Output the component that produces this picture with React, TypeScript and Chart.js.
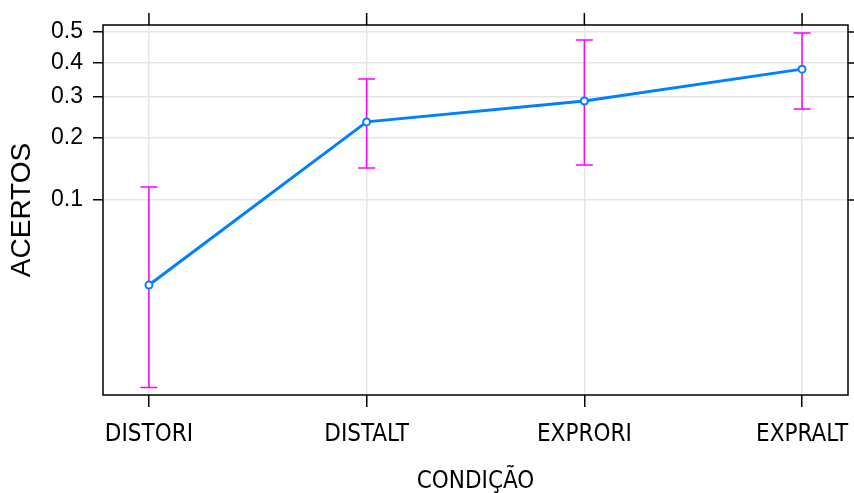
import React, { useEffect, useRef } from 'react';
import { Chart, registerables } from 'chart.js';

Chart.register(...registerables);

// ---- data ----
const categories = ['DISTORI', 'DISTALT', 'EXPRORI', 'EXPRALT'];
const fitValues = [0.0353, 0.236, 0.2886, 0.381];
const lowerValues = [0.0095, 0.1446, 0.1494, 0.2677];
const upperValues = [0.1165, 0.351, 0.474, 0.4967];
const yTickValues = [0.1, 0.2, 0.3, 0.4, 0.5];
const yTickLabels = ['0.1', '0.2', '0.3', '0.4', '0.5'];
const yRange = [0.00862, 0.5229];
const xPad = 0.211;

const logit = (p: number) => Math.log(p / (1 - p));

const narrowFont = "'Liberation Sans Narrow', 'DejaVu Sans Condensed', 'Liberation Sans', sans-serif";
const regularFont = "'Liberation Sans', Arial, sans-serif";

const errorBarPlugin = {
  id: 'errorBars',
  beforeDatasetsDraw(chart: any) {
    const { ctx } = chart;
    const x = chart.scales.x;
    const y = chart.scales.y;
    ctx.save();
    ctx.strokeStyle = '#ff00ff';
    ctx.lineWidth = 1.5;
    categories.forEach((_, i) => {
      const px = x.getPixelForValue(i);
      const yl = y.getPixelForValue(logit(lowerValues[i]));
      const yu = y.getPixelForValue(logit(upperValues[i]));
      ctx.beginPath();
      ctx.moveTo(px, yl);
      ctx.lineTo(px, yu);
      ctx.moveTo(px - 8.5, yl);
      ctx.lineTo(px + 8.5, yl);
      ctx.moveTo(px - 8.5, yu);
      ctx.lineTo(px + 8.5, yu);
      ctx.stroke();
    });
    ctx.restore();
  },
};

const framePlugin = {
  id: 'frame',
  afterDraw(chart: any) {
    const { ctx, chartArea } = chart;
    const x = chart.scales.x;
    const y = chart.scales.y;
    ctx.save();
    ctx.strokeStyle = '#000000';
    ctx.lineWidth = 1.5;
    ctx.strokeRect(chartArea.left, chartArea.top, chartArea.right - chartArea.left, chartArea.bottom - chartArea.top);
    ctx.beginPath();
    categories.forEach((_, i) => {
      const px = x.getPixelForValue(i);
      ctx.moveTo(px, chartArea.top);
      ctx.lineTo(px, chartArea.top - 12);
    });
    yTickValues.forEach((v) => {
      const py = y.getPixelForValue(logit(v));
      ctx.moveTo(chartArea.right, py);
      ctx.lineTo(chartArea.right + 10, py);
    });
    ctx.stroke();
    ctx.restore();
  },
};

export default function App() {
  const canvasRef = useRef<HTMLCanvasElement | null>(null);

  useEffect(() => {
    if (!canvasRef.current) return;
    const chart = new Chart(canvasRef.current, {
      type: 'line',
      data: {
        datasets: [
          {
            data: fitValues.map((v, i) => ({ x: i, y: logit(v) })),
            borderColor: '#0080ff',
            borderWidth: 3,
            pointRadius: 3.5,
            pointBorderWidth: 2,
            pointBorderColor: '#0080ff',
            pointBackgroundColor: '#ffffff',
            tension: 0,
          },
        ],
      },
      options: {
        animation: false,
        responsive: false,
        events: [],
        layout: { padding: { top: 25, right: 6, left: 0, bottom: 0 } },
        plugins: { legend: { display: false }, tooltip: { enabled: false } },
        scales: {
          x: {
            type: 'linear',
            min: -xPad,
            max: categories.length - 1 + xPad,
            afterBuildTicks: (scale: any) => {
              scale.ticks = categories.map((_, i) => ({ value: i }));
            },
            afterFit: (scale: any) => {
              scale.height = 98;
              scale.paddingLeft = 0;
              scale.paddingRight = 0;
            },
            ticks: {
              callback: (_v: any, index: number) => categories[index],
              color: '#000000',
              font: { family: narrowFont, size: 24 },
              padding: 13,
              maxRotation: 0,
              autoSkip: false,
            },
            grid: {
              color: '#e6e6e6',
              lineWidth: 1.5,
              tickColor: '#000000',
              tickWidth: 1.5,
              tickLength: 12,
            },
            border: { display: false },
            title: {
              display: true,
              text: 'CONDIÇÃO',
              color: '#000000',
              font: { family: narrowFont, size: 24, lineHeight: 0.8 },
              padding: { top: 0, bottom: 1.5 },
            },
          },
          y: {
            type: 'linear',
            min: logit(yRange[0]),
            max: logit(yRange[1]),
            afterBuildTicks: (scale: any) => {
              scale.ticks = yTickValues.map((v) => ({ value: logit(v) }));
            },
            afterFit: (scale: any) => {
              scale.width = 103;
              scale.paddingTop = 0;
              scale.paddingBottom = 0;
            },
            ticks: {
              callback: (_v: any, index: number) => yTickLabels[index],
              color: '#000000',
              font: { family: regularFont, size: 23 },
              padding: 10,
              autoSkip: false,
            },
            grid: {
              color: '#e6e6e6',
              lineWidth: 1.5,
              tickColor: '#000000',
              tickWidth: 1.5,
              tickLength: 10,
            },
            border: { display: false },
            title: {
              display: true,
              text: 'ACERTOS',
              color: '#000000',
              font: { family: regularFont, size: 28 },
              padding: { top: 5, bottom: 0 },
            },
          },
        },
      },
      plugins: [errorBarPlugin, framePlugin],
    } as any);
    return () => chart.destroy();
  }, []);

  return (
    <div style={{ position: 'fixed', left: 0, top: 0, width: 854, height: 493, background: '#ffffff' }}>
      <canvas ref={canvasRef} width={854} height={493} style={{ width: 854, height: 493, display: 'block' }} />
    </div>
  );
}
